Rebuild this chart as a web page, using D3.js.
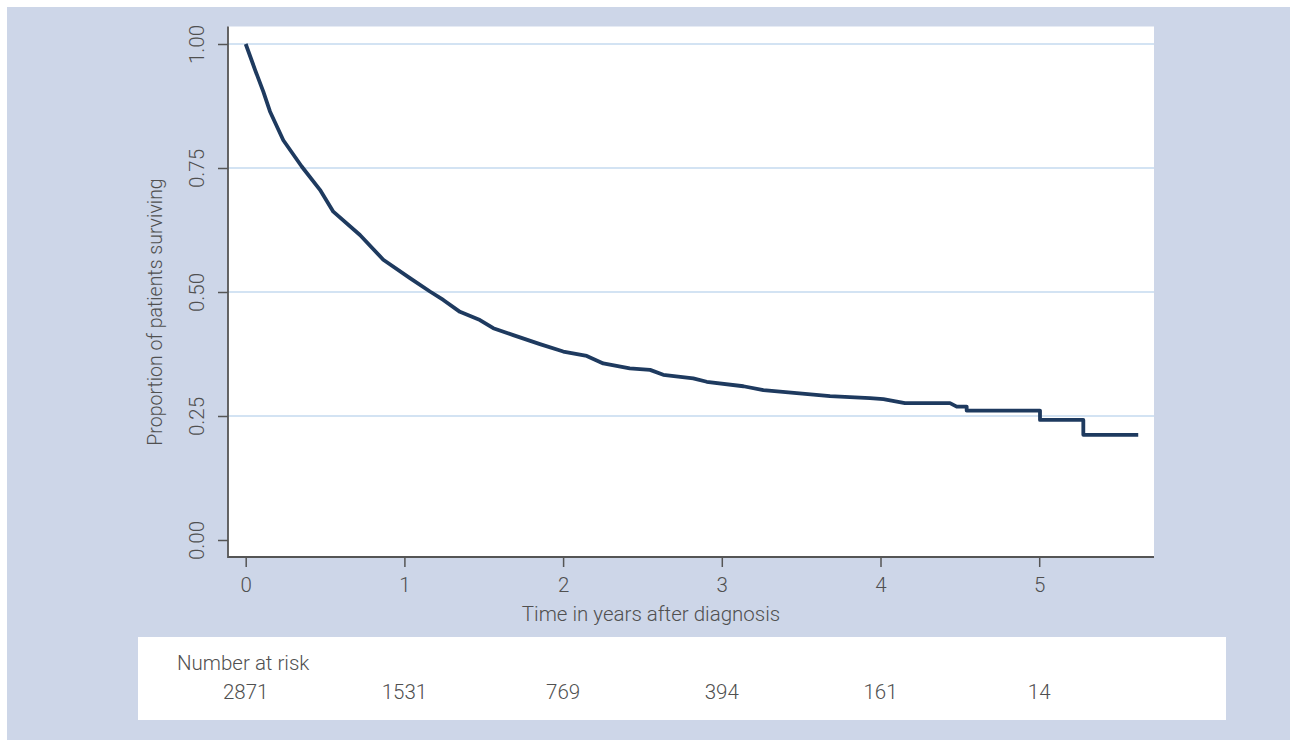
<!DOCTYPE html>
<html>
<head>
<meta charset="utf-8">
<script src="https://cdn.jsdelivr.net/npm/d3@7"></script>
<style>
  html, body { margin: 0; padding: 0; background: #fff; }
  text { font-family: Roboto, "Liberation Sans", sans-serif; font-weight: 300; fill: #505050; }
</style>
</head>
<body>
<svg id="chart" width="1290" height="740"></svg>
<script>
// Kaplan-Meier estimate
const timeYears = [0, 0.059, 0.111, 0.153, 0.237, 0.353, 0.468, 0.552, 0.720, 0.867, 1.035, 1.161, 1.245,
  1.350, 1.476, 1.560, 1.686, 1.854, 2.001, 2.149, 2.253, 2.420, 2.548, 2.631, 2.820, 2.905, 3.136, 3.262,
  3.472, 3.682, 3.807, 3.934, 4.018, 4.154, 4.438, 4.480, 4.543, 4.543, 5.005, 5.005, 5.278, 5.278, 5.624];
const survival = [1, 0.948, 0.904, 0.864, 0.806, 0.753, 0.706, 0.662, 0.615, 0.565, 0.528, 0.501, 0.484,
  0.460, 0.4435, 0.427, 0.413, 0.395, 0.380, 0.371, 0.356, 0.346, 0.343, 0.333, 0.326, 0.319, 0.310, 0.302,
  0.296, 0.290, 0.288, 0.286, 0.284, 0.276, 0.276, 0.269, 0.269, 0.261, 0.261, 0.242, 0.242, 0.212, 0.212];

const xTicks = [0, 1, 2, 3, 4, 5];
const yTicks = [0, 0.25, 0.5, 0.75, 1];
const gridTicks = [0.25, 0.5, 0.75, 1];
const atRisk = [2871, 1531, 769, 394, 161, 14];

const fs = 20.5;
const svg = d3.select('#chart');

// outer panel
svg.append('rect').attr('x', 7).attr('y', 7).attr('width', 1283).attr('height', 733).attr('fill', '#cdd6e8');

const plot = {left: 228, right: 1154, top: 26.5, bottom: 557};
svg.append('rect')
  .attr('x', plot.left).attr('y', plot.top)
  .attr('width', plot.right - plot.left).attr('height', plot.bottom - plot.top)
  .attr('fill', '#fff');

const x = d3.scaleLinear().domain([0, 5]).range([245.7, 1039.2]);
const y = d3.scaleLinear().domain([0, 1]).range([540, 44]);

// grid
svg.append('g').selectAll('line').data(gridTicks).join('line')
  .attr('x1', plot.left).attr('x2', plot.right)
  .attr('y1', d => y(d)).attr('y2', d => y(d))
  .attr('stroke', '#d3e3f3').attr('stroke-width', 2);

// axes
const yAxis = svg.append('g').attr('transform', `translate(${plot.left},0)`)
  .call(d3.axisLeft(y).tickValues(yTicks).tickFormat(d3.format('.2f')).tickSize(10));
const xAxis = svg.append('g').attr('transform', `translate(0,${plot.bottom})`)
  .call(d3.axisBottom(x).tickValues(xTicks).tickFormat(d3.format('d')).tickSize(10).tickPadding(10));
[yAxis, xAxis].forEach(a => {
  a.select('.domain').remove();
  a.selectAll('line').attr('stroke', '#555').attr('stroke-width', 1.5);
  a.selectAll('text').attr('font-size', fs).style('fill', '#505050');
});
yAxis.selectAll('.tick text')
  .attr('text-anchor', 'middle').attr('x', 0).attr('dy', 0)
  .attr('transform', 'translate(-31,0) rotate(-90)')
  .attr('dominant-baseline', 'central');

// frame lines (left + bottom)
svg.append('path')
  .attr('d', `M${plot.left},${plot.top}V${plot.bottom}H${plot.right}`)
  .attr('fill', 'none').attr('stroke', '#555').attr('stroke-width', 1.8);

// curve
const pts = timeYears.map((t, i) => [t, survival[i]]);
svg.append('path').datum(pts)
  .attr('d', d3.line().x(d => x(d[0])).y(d => y(d[1])))
  .attr('fill', 'none').attr('stroke', '#1e3a5f').attr('stroke-width', 3.8)
  .attr('stroke-linejoin', 'round');

// axis titles
svg.append('text').attr('x', 651).attr('y', 614).attr('text-anchor', 'middle')
  .attr('dominant-baseline', 'central').attr('font-size', fs)
  .text('Time in years after diagnosis');
svg.append('text').attr('transform', 'translate(155,312) rotate(-90)')
  .attr('text-anchor', 'middle').attr('dominant-baseline', 'central').attr('font-size', 19.5)
  .text('Proportion of patients surviving');

// number at risk panel
svg.append('rect').attr('x', 138).attr('y', 637).attr('width', 1088).attr('height', 83).attr('fill', '#fff');
svg.append('text').attr('x', 177).attr('y', 663).attr('dominant-baseline', 'central')
  .attr('font-size', fs).text('Number at risk');
svg.append('g').selectAll('text').data(atRisk).join('text')
  .attr('x', (d, i) => x(xTicks[i])).attr('y', 692)
  .attr('text-anchor', 'middle').attr('dominant-baseline', 'central').attr('font-size', fs)
  .text(d => d);
</script>
</body>
</html>
